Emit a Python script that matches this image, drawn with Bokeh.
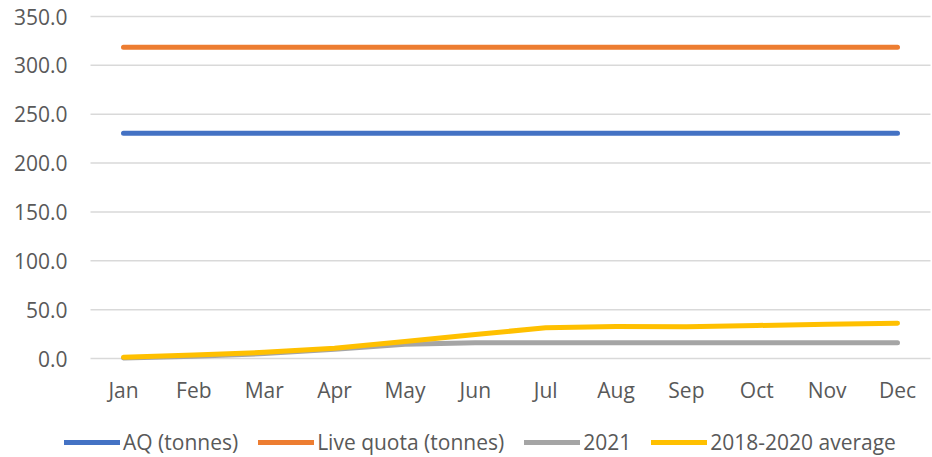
from bokeh.plotting import figure
from bokeh.models import Range1d, Legend, LegendItem
from bokeh.core.properties import value
from bokeh.embed import file_html
from bokeh.resources import INLINE

months = ["Jan", "Feb", "Mar", "Apr", "May", "Jun", "Jul", "Aug", "Sep", "Oct", "Nov", "Dec"]
aq_tonnes = [230.5, 230.5, 230.5, 230.5, 230.5, 230.5, 230.5, 230.5, 230.5, 230.5, 230.5, 230.5]
live_quota = [318.5, 318.5, 318.5, 318.5, 318.5, 318.5, 318.5, 318.5, 318.5, 318.5, 318.5, 318.5]
y2021 = [0.6, 2.2, 5.0, 9.5, 14.5, 16.0, 16.0, 16.0, 16.0, 16.0, 16.0, 16.0]
avg_2018_2020 = [1.3, 3.6, 6.3, 10.4, 17.5, 24.5, 31.5, 32.8, 32.6, 33.8, 35.0, 36.2]
y_ticks = [0, 50, 100, 150, 200, 250, 300, 350]
y_tick_labels = ["0.0", "50.0", "100.0", "150.0", "200.0", "250.0", "300.0", "350.0"]

FONT = "Open Sans"
TXT = "#595959"
FS = "21px"

x = list(range(len(months)))

# Whole canvas is the plot frame so the legend below the chart is not clipped.
# Frame pixels: Jan at x=123, Dec at x=897; value 0 at y=358, 350 at y=16.
px_per_x = (897 - 123) / 11
px_per_y = (358 - 16) / 350
x_start = -123 / px_per_x
x_end = 11 + (932 - 897) / px_per_x
y_end = 350 + 16 / px_per_y
y_start = -(457 - 358) / px_per_y
grid_x0 = (90 - 123) / px_per_x
grid_x1 = (930 - 123) / px_per_x

p = figure(
    width=932, height=457,
    x_range=Range1d(x_start, x_end), y_range=Range1d(y_start, y_end),
    output_backend="svg", toolbar_location=None,
    x_axis_location=None, y_axis_location=None,
    min_border_left=0, min_border_top=0, min_border_right=0, min_border_bottom=0,
)
p.outline_line_color = None
p.background_fill_color = "white"
p.border_fill_color = "white"
p.xgrid.visible = False
p.ygrid.visible = False

# horizontal gridlines at the y ticks
p.segment(x0=[grid_x0] * len(y_ticks), x1=[grid_x1] * len(y_ticks), y0=y_ticks, y1=y_ticks,
          line_color="#D9D9D9", line_width=1.5)

# y tick labels
p.text(x=[grid_x0] * len(y_ticks), y=y_ticks, text=y_tick_labels,
       x_offset=-23, text_align="right", text_baseline="middle",
       text_font=value(FONT), text_font_size=FS, text_color=TXT)

# month labels
p.text(x=x, y=[0] * len(months), text=months,
       y_offset=31, text_align="center", text_baseline="middle",
       text_font=value(FONT), text_font_size=FS, text_color=TXT)

r_aq = p.line(x, aq_tonnes, line_color="#4472C4", line_width=5, line_cap="round")
r_live = p.line(x, live_quota, line_color="#ED7D31", line_width=5, line_cap="round")
r_21 = p.line(x, y2021, line_color="#A5A5A5", line_width=5, line_cap="round", line_join="round")
r_avg = p.line(x, avg_2018_2020, line_color="#FFC000", line_width=5, line_cap="round", line_join="round")

legend = Legend(
    items=[
        LegendItem(label="AQ (tonnes)", renderers=[r_aq]),
        LegendItem(label="Live quota (tonnes)", renderers=[r_live]),
        LegendItem(label="2021", renderers=[r_21]),
        LegendItem(label="2018-2020 average", renderers=[r_avg]),
    ],
    orientation="horizontal",
    location=(64, 1),
    glyph_width=56, glyph_height=20,
    label_standoff=3, spacing=20,
    padding=0, margin=0,
    label_text_font=FONT, label_text_font_size=FS, label_text_color=TXT,
    border_line_color=None, background_fill_alpha=0,
)
p.add_layout(legend, "center")

open("out.html", "w").write(file_html(p, INLINE))
